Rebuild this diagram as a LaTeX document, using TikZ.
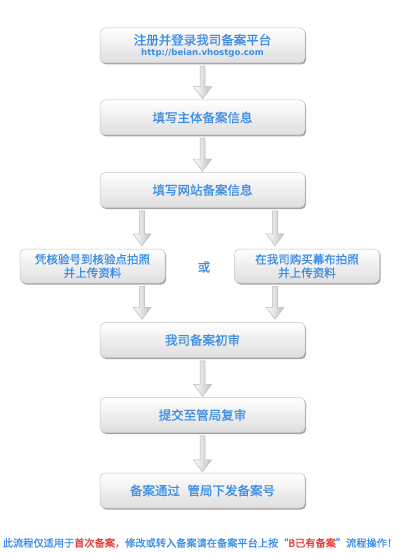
\documentclass[tikz,border=0pt]{standalone}
\usepackage{fontspec}
\newfontfamily\cjk[FakeBold=0.9]{Noto Sans CJK SC}
\newfontfamily\urlfont{DejaVu Sans}
\usetikzlibrary{calc,shadows}
\definecolor{tblue}{HTML}{3C8DE6}
\definecolor{tred}{HTML}{E8352F}
\tikzset{
  box/.style={draw=gray!45, line width=0.5pt, rounded corners=5pt, top color=white, bottom color=black!13,
    drop shadow={shadow xshift=1.2pt, shadow yshift=-1.5pt, opacity=.55, fill=black!65},
    inner sep=0pt, align=center, text=tblue, font=\cjk\fontsize{12.5}{14}\selectfont},
  mainbox/.style={box, minimum width=205pt, minimum height=35pt},
  sidebox/.style={box, minimum width=145pt, minimum height=34pt, font=\cjk\fontsize{11.5}{13.5}\selectfont},
  arrowshape/.style={draw=gray!55, line width=0.5pt, left color=white, right color=black!25, line join=miter}
}
\newcommand\harrow[2]{%
  \path[arrowshape] let \p1=(#1), \p2=(#2) in
   (\x1-2.5pt,\y1) -- (\x1+2.5pt,\y1) -- (\x1+2.5pt,\y2+12pt) -- (\x1+9pt,\y2+12pt) -- (\x1,\y2)
   -- (\x1-9pt,\y2+12pt) -- (\x1-2.5pt,\y2+12pt) -- cycle;}
\begin{document}
\begin{tikzpicture}[x=1pt,y=-1pt]
\fill[white] (0,0) rectangle (400,553);
\useasboundingbox (0,0) rectangle (400,553);
\node[mainbox] (b1) at (202.5,45.5) {注册并登录我司备案平台\\[-3.5pt]{\urlfont\bfseries\fontsize{8.6}{10}\selectfont http://beian.vhostgo.com}};
\node[mainbox] (b2) at (202.5,117.5) {填写主体备案信息};
\node[mainbox] (b3) at (202.5,190) {填写网站备案信息};
\node[sidebox] (lb) at (92.5,266) {凭核验号到核验点拍照\\并上传资料};
\node[sidebox] (rb) at (307,266) {在我司购买幕布拍照\\并上传资料};
\node[text=tblue, font=\cjk\fontsize{12.5}{14}\selectfont] (or) at (204,267) {或};
\node[mainbox] (b4) at (202.5,340) {我司备案初审};
\node[mainbox] (b5) at (202.5,415) {提交至管局复审};
\node[mainbox] (b6) at (202.5,490.5) {备案通过\hspace{0.6em}管局下发备案号};
\node[font=\cjk\fontsize{10.2}{12}\selectfont, text=tblue] (foot) at (200,543)
  {此流程仅适用于\textcolor{tred}{首次备案}，修改或转入备案请在备案平台上按“\textcolor{tred}{B已有备案}”流程操作！};
\coordinate (lx) at (142,0);
\coordinate (rx) at (275,0);
\harrow{$(b1.south)+(0,3)$}{$(b2.north)+(0,-1)$}
\harrow{$(b2.south)+(0,3)$}{$(b3.north)+(0,-1)$}
\harrow{$(b3.south -| lx)+(0,3)$}{$(lb.north -| lx)+(0,-3)$}
\harrow{$(b3.south -| rx)+(0,3)$}{$(rb.north -| rx)+(0,-3)$}
\harrow{$(lb.south -| lx)+(0,3)$}{$(b4.north -| lx)+(0,-3)$}
\harrow{$(rb.south -| rx)+(0,3)$}{$(b4.north -| rx)+(0,-3)$}
\harrow{$(b4.south)+(0,3)$}{$(b5.north)+(0,-1)$}
\harrow{$(b5.south)+(0,3)$}{$(b6.north)+(0,-1)$}
\end{tikzpicture}
\end{document}
